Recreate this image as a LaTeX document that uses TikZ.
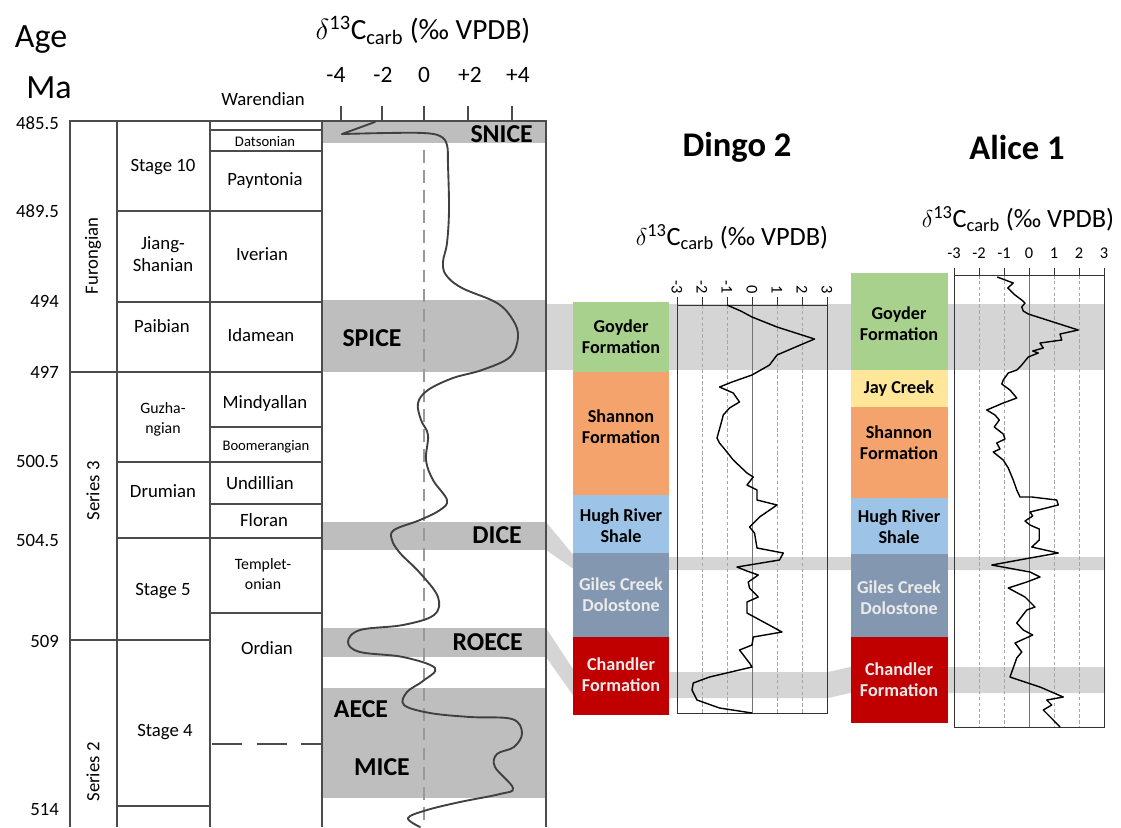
\documentclass[tikz,border=0pt]{standalone}
\usepackage{fontspec}
\setmainfont{Carlito}
\usetikzlibrary{positioning}

\definecolor{goyder}{HTML}{A9D18E}
\definecolor{jaycreek}{HTML}{FFE699}
\definecolor{shannon}{HTML}{F5A36C}
\definecolor{hughriver}{HTML}{9DC3E6}
\definecolor{gilescreek}{HTML}{8497B0}
\definecolor{chandler}{HTML}{C00000}
\definecolor{banddark}{HTML}{BEBEBE}
\definecolor{bandlight}{HTML}{D5D5D5}

\newcommand{\dcarb}{\(\delta\)\textsuperscript{13}C\textsubscript{carb} (‰ VPDB)}

\begin{document}
\begin{tikzpicture}[x=0.03cm,y=-0.03cm,
  tab/.style={line width=1.4pt,draw=black!70},
  txt/.style={font=\fontsize{16}{19}\selectfont,align=center,inner sep=0},
  sml/.style={font=\fontsize{12.5}{17}\selectfont,align=center,inner sep=0},
  mid/.style={font=\fontsize{13.5}{17}\selectfont,align=center,inner sep=0},
  big/.style={font=\fontsize{29}{31}\selectfont,inner sep=0},
  hdr/.style={font=\fontsize{25}{28}\selectfont,inner sep=0},
  hdrs/.style={font=\fontsize{22.5}{25}\selectfont,inner sep=0},
  tck/.style={font=\fontsize{20}{22}\selectfont,inner sep=0},
  ttl/.style={font=\bfseries\fontsize{29.5}{32}\selectfont,inner sep=0},
  evt/.style={font=\bfseries\fontsize{22}{24}\selectfont,inner sep=0},
  fm/.style={font=\bfseries\fontsize{15.5}{18}\selectfont,align=center,inner sep=0},
  num/.style={font=\fontsize{14}{16}\selectfont,inner sep=0},
  curve/.style={line width=1.6pt,draw=black!75,line join=round,line cap=round},
  logline/.style={line width=1.2pt,draw=black,line join=round},
  frame/.style={line width=0.7pt,draw=black!80},
  grid/.style={line width=0.5pt,draw=black!35,dash pattern=on 3pt off 2pt},
  zero/.style={line width=0.8pt,draw=black!55}]
\useasboundingbox (0,0) rectangle (1121,827);

\fill[bandlight] (546,304) rectangle (1105,370);
\fill[bandlight] (546,522) -- (575,557) -- (1105,557) -- (1105,570) -- (575,570) -- (546,550) -- cycle;
\fill[bandlight] (546,628) -- (575,672) -- (828,672) -- (850,667) -- (1105,667) -- (1105,693) -- (850,693) -- (828,698) -- (575,698) -- (546,657) -- cycle;
\fill[banddark] (322,121) rectangle (546,143);
\fill[banddark] (322,300) rectangle (546,372);
\fill[banddark] (322,522) rectangle (546,550);
\fill[banddark] (322,628) rectangle (546,657);
\fill[banddark] (322,688) rectangle (546,798);

\node[big] (age) at (41,40) {Age};
\node[big] (ma) at (49,88) {Ma};
\node[hdr] (hdr) at (423,30) {\dcarb};
\node[txt,anchor=east] (a1) at (59,123) {485.5};
\node[txt,anchor=east] (a2) at (59,211) {489.5};
\node[txt,anchor=east] (a3) at (59,301) {494};
\node[txt,anchor=east] (a4) at (59,372) {497};
\node[txt,anchor=east] (a5) at (59,461) {500.5};
\node[txt,anchor=east] (a6) at (59,540) {504.5};
\node[txt,anchor=east] (a7) at (59,641) {509};
\node[txt,anchor=east] (a8) at (59,810) {514};

\draw[tab] (70,827) -- (70,121) -- (546,121) -- (546,827);
\draw[tab] (117,121) -- (117,827);
\draw[tab] (210,121) -- (210,827);
\draw[tab] (322,121) -- (322,827);
\draw[tab] (210,130) -- (322,130);
\draw[tab] (210,151) -- (322,151);
\draw[tab] (117,211) -- (322,211);
\draw[tab] (117,302) -- (322,302);
\draw[tab] (70,372) -- (322,372);
\draw[tab] (210,427) -- (322,427);
\draw[tab] (117,462) -- (322,462);
\draw[tab] (210,504) -- (322,504);
\draw[tab] (117,538) -- (322,538);
\draw[tab] (210,613) -- (322,613);
\draw[tab] (70,640) -- (210,640);
\draw[tab,dash pattern=on 26pt off 12pt] (212,744) -- (322,744);
\draw[tab] (117,806) -- (210,806);

\node[txt,rotate=90] (furongian) at (93,256) {Furongian};
\node[txt,rotate=90] (series3) at (93,491) {Series 3};
\node[txt,rotate=90] (series2) at (93,772) {Series 2};
\node[txt] (stage10) at (163,167) {Stage 10};
\node[txt] (jiangshan) at (163,254) {Jiang-\\Shanian};
\node[txt] (paibian) at (162,326) {Paibian};
\node[mid] (guzhang) at (163,419) {Guzha-\\ngian};
\node[txt] (drumian) at (163,491) {Drumian};
\node[txt] (stage5) at (163,591) {Stage 5};
\node[txt] (stage4) at (165,732) {Stage 4};
\node[txt] (warendian) at (263,99) {Warendian};
\node[sml] (datsonian) at (265,142) {Datsonian};
\node[txt] (payntonia) at (265,181) {Payntonia};
\node[txt] (iverian) at (262,254) {Iverian};
\node[txt] (idamean) at (261,335) {Idamean};
\node[txt] (mindyallan) at (265,403) {Mindyallan};
\node[sml] (boomerang) at (266,447) {Boomerangian};
\node[txt] (undillian) at (260,483) {Undillian};
\node[txt] (floran) at (264,520) {Floran};
\node[mid] (templeton) at (263,574) {Templet-\\onian};
\node[txt] (ordian) at (267,648) {Ordian};

\draw[zero,draw=black!40,line width=1.2pt,dash pattern=on 11pt off 6pt] (424,150) -- (424,827);
\draw[tab] (341,106) -- (341,121);
\draw[tab] (382,106) -- (382,121);
\draw[tab] (424,106) -- (424,121);
\draw[tab] (468,106) -- (468,121);
\draw[tab] (512,106) -- (512,121);
\node[tck] (tm4) at (336,75) {-4};
\node[tck] (tm2) at (383,75) {-2};
\node[tck] (t0) at (424,75) {0};
\node[tck] (tp2) at (470,75) {+2};
\node[tck] (tp4) at (518,75) {+4};

\draw[curve] (375,122) -- (342,134);
\draw[curve] plot[smooth,tension=0.6] coordinates {(342,134) (387,133) (423,133) (440,136) (447,145) (448,165) (449,210) (447,243) (443,262) (446,275) (462,288) (497,303) (513,320) (518,337) (510,357) (482,370) (453,378) (428,390) (418,403) (421,420) (428,435) (426,460) (433,480) (447,500) (440,510) (420,520) (394,530) (392,540) (400,553) (420,573) (438,597) (434,615) (403,625) (360,630) (348,642) (360,652) (403,657) (435,668) (423,681) (407,692) (404,705) (430,713) (470,717) (512,719) (522,733) (514,747) (497,754) (495,767) (513,788) (500,794) (460,802) (427,810) (408,818) (420,827)};

\node[evt,anchor=east] (snice) at (533,134) {SNICE};
\node[evt] (spice) at (372,338) {SPICE};
\node[evt,anchor=east] (dice) at (522,535) {DICE};
\node[evt,anchor=east] (roece) at (523,642) {ROECE};
\node[evt] (aece) at (361,709) {AECE};
\node[evt] (mice) at (382,767) {MICE};

\node[ttl] (dingo) at (737,147) {Dingo 2};
\node[hdrs] (dhdr) at (732,237) {\dcarb};
\fill[goyder] (573,302) rectangle (669,372);
\fill[shannon] (573,372) rectangle (669,495);
\fill[hughriver] (573,495) rectangle (669,553);
\fill[gilescreek] (573,553) rectangle (669,637);
\fill[chandler] (573,637) rectangle (669,715);
\node[fm] (dgoyder) at (621,337) {Goyder\\Formation};
\node[fm] (dshannon) at (621,427) {Shannon\\Formation};
\node[fm] (dhugh) at (621,526) {Hugh River\\Shale};
\node[fm,text=white!92!black] (dgiles) at (621,595) {Giles Creek\\Dolostone};
\node[fm,text=white!92!black] (dchandler) at (621,675) {Chandler\\Formation};
\foreach \v in {-2,-1,1,2}
  \draw[grid] (752+25*\v,305) -- (752+25*\v,713);
\draw[zero] (752,305) -- (752,713);
\draw[frame] (677,305) rectangle (827,713);
\foreach \v [count=\i] in {-3,-2,-1,0,1,2,3}{
  \draw[frame] (752+25*\v,297) -- (752+25*\v,305);
  \node[num,rotate=-90,anchor=east] (dt\i) at (752+25*\v,294) {\v};
}
\begin{scope}[shift={(752,0)},x=0.75cm]
\draw[logline] plot coordinates {(-1.0,305) (-0.45,311) (0.0,317) (0.2,319) (1.0,327) (2.5,339) (1.65,348) (1.0,355) (0.7,365) (0,375) (-0.8,382) (-1.3,387) (-0.75,393) (-0.5,402) (-0.9,408) (-1.15,415) (-1.2,420) (-1.4,438) (-1.3,443) (-1.0,452) (-0.75,460) (-0.2,473) (0.05,477) (-0.2,485) (0.2,490) (0.2,500) (1.0,505) (0.3,517) (-0.1,527) (0.1,533) (0.2,548) (1.25,553) (1.1,560) (-0.6,567) (-0.2,571) (0.25,575) (-0.15,582) (-0.1,588) (0.25,597) (-0.2,602) (-0.2,613) (1.2,632) (0.05,637) (0,645) (-0.5,650) (-0.1,663) (0,667) (-1.7,677) (-2.35,683) (-2.4,690) (-2.2,700) (-1.3,708) (0,713)};
\end{scope}

\node[ttl] (alice) at (1017,147) {Alice 1};
\node[hdrs] (ahdr) at (1018,219) {\dcarb};
\fill[goyder] (851,273) rectangle (948,370);
\fill[jaycreek] (851,370) rectangle (948,407);
\fill[shannon] (851,407) rectangle (948,498);
\fill[hughriver] (851,498) rectangle (948,554);
\fill[gilescreek] (851,554) rectangle (948,637);
\fill[chandler] (851,637) rectangle (948,723);
\node[fm] (agoyder) at (899,324) {Goyder\\Formation};
\node[fm] (ajay) at (899,389) {Jay Creek};
\node[fm] (ashannon) at (899,443) {Shannon\\Formation};
\node[fm] (ahugh) at (899,527) {Hugh River\\Shale};
\node[fm,text=white!92!black] (agiles) at (899,598) {Giles Creek\\Dolostone};
\node[fm,text=white!92!black] (achandler) at (899,680) {Chandler\\Formation};
\foreach \v in {-2,-1,1,2}
  \draw[grid] (1029+25*\v,275) -- (1029+25*\v,727);
\draw[zero] (1029,275) -- (1029,727);
\draw[frame] (954,275) rectangle (1104,727);
\foreach \v [count=\i] in {-3,-2,-1,0,1,2,3}{
  \draw[frame] (1029+25*\v,268) -- (1029+25*\v,275);
  \node[num] (at\i) at (1029+25*\v,253) {\v};
}
\begin{scope}[shift={(1029,0)},x=0.75cm]
\draw[logline] plot coordinates {(-1.27,277) (-0.63,283) (-0.85,288) (-0.56,295) (-0.29,300) (-0.16,303) (-0.29,307) (-0.23,311) (-0.03,314) (0.97,322) (1.97,330) (1.24,334) (1.31,340) (0.44,343) (0.57,348) (0.15,351) (0.37,353) (-0.03,357) (-0.29,365) (-0.49,370) (-0.83,373) (-1.03,380) (-1.09,384) (-0.76,390) (-0.49,398) (-1.03,403) (-1.69,410) (-1.36,415) (-1.19,420) (-1.39,427) (-1.03,434) (-0.96,439) (-1.29,443) (-1.16,449) (-1.43,452) (-1.03,460) (-0.83,468) (-0.63,480) (-0.49,490) (-0.36,497) (0.11,497) (1.11,500) (1.17,505) (0.04,512) (0.15,516) (-0.16,521) (0.04,525) (0.41,529) (0.41,540) (0.11,547) (1.17,553) (0.04,558) (-1.49,565) (0.04,572) (0.44,577) (-0.09,582) (-0.83,588) (-0.16,597) (0.24,607) (-0.09,610) (-0.49,623) (-0.23,630) (0.15,635) (-0.56,643) (-0.29,652) (-0.49,658) (-0.76,677) (0.44,687) (1.37,697) (0.71,700) (0.91,705) (0.57,710) (0.97,720) (1.24,727)};
\end{scope}
\end{tikzpicture}
\end{document}
